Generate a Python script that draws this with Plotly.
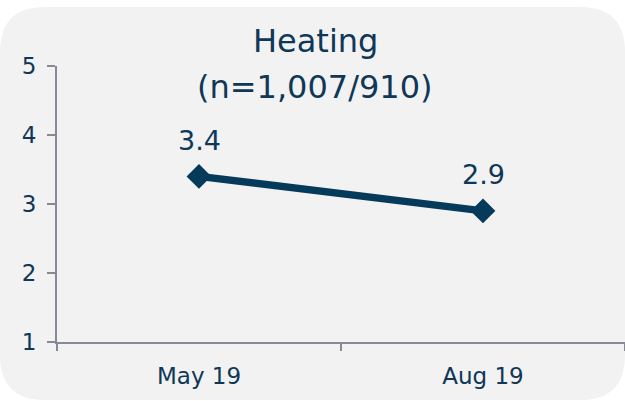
import plotly.graph_objects as go

categories = ["May 19", "Aug 19"]
values = [3.4, 2.9]
value_labels = ["3.4", "2.9"]
y_ticks = [1, 2, 3, 4, 5]
title_line1 = "Heating"
title_line2 = "(n=1,007/910)"

W, H = 625, 401
ML, MR, MT, MB = 57, 0, 66, 59
PW, PH = W - ML - MR, H - MT - MB

NAVY_TEXT = "#0f3757"
NAVY_LINE = "#063a5b"
GRAY = "#878a94"
FILL = "#f2f2f2"
FONT = "DejaVu Sans"

def px(x):
    return (x - ML) / PW

def py(y):
    return (H - MB - y) / PH

# rounded background rectangle (pixel geometry converted to paper coords)
x0, x1, y0, y1, r = 0, 625, 7, 400, 45
path = (
    f"M {px(x0 + r)},{py(y0)} L {px(x1 - r)},{py(y0)} "
    f"Q {px(x1)},{py(y0)} {px(x1)},{py(y0 + r)} "
    f"L {px(x1)},{py(y1 - r)} Q {px(x1)},{py(y1)} {px(x1 - r)},{py(y1)} "
    f"L {px(x0 + r)},{py(y1)} Q {px(x0)},{py(y1)} {px(x0)},{py(y1 - r)} "
    f"L {px(x0)},{py(y0 + r)} Q {px(x0)},{py(y0)} {px(x0 + r)},{py(y0)} Z"
)

fig = go.Figure()
fig.add_trace(go.Scatter(
    x=categories, y=values, mode="lines+markers",
    line=dict(color=NAVY_LINE, width=7.5),
    marker=dict(symbol="diamond", size=17, color=NAVY_LINE,
                line=dict(color=NAVY_LINE, width=2)),
    hoverinfo="skip", cliponaxis=False, showlegend=False,
))

annotations = []
for c, v, t in zip(categories, values, value_labels):
    annotations.append(dict(x=c, y=v, xref="x", yref="y", text=t,
                            showarrow=False, yshift=36,
                            font=dict(family=FONT, size=27, color=NAVY_TEXT)))
annotations.append(dict(x=px(315), y=py(41), xref="paper", yref="paper",
                        text=title_line1, showarrow=False, yanchor="middle",
                        font=dict(family=FONT, size=32, color=NAVY_TEXT)))
annotations.append(dict(x=px(315), y=py(87), xref="paper", yref="paper",
                        text=title_line2, showarrow=False, yanchor="middle",
                        font=dict(family=FONT, size=32, color=NAVY_TEXT)))

fig.update_layout(
    width=W, height=H,
    margin=dict(l=ML, r=MR, t=MT, b=MB),
    paper_bgcolor="white", plot_bgcolor="rgba(0,0,0,0)",
    shapes=[dict(type="path", path=path, xref="paper", yref="paper",
                 fillcolor=FILL, line=dict(width=0), layer="below")],
    annotations=annotations,
    font=dict(family=FONT, color=NAVY_TEXT),
    xaxis=dict(
        type="category", range=[-0.5, 1.5], showgrid=False, zeroline=False,
        showline=True, linecolor=GRAY, linewidth=2,
        ticks="outside", tickson="boundaries", ticklen=7, tickcolor=GRAY, tickwidth=2,
        tickfont=dict(family=FONT, size=23, color=NAVY_TEXT),
        ticklabelstandoff=12, fixedrange=True,
    ),
    yaxis=dict(
        range=[1, 5], tickvals=y_ticks, showgrid=False, zeroline=False,
        showline=True, linecolor=GRAY, linewidth=2,
        ticks="outside", ticklen=8, tickcolor=GRAY, tickwidth=2,
        tickfont=dict(family=FONT, size=23, color=NAVY_TEXT),
        ticklabelstandoff=6, fixedrange=True,
    ),
)

fig.write_html("out.html", config={"displayModeBar": False},
               post_script="document.body.style.margin='0';document.body.style.overflow='hidden';")
